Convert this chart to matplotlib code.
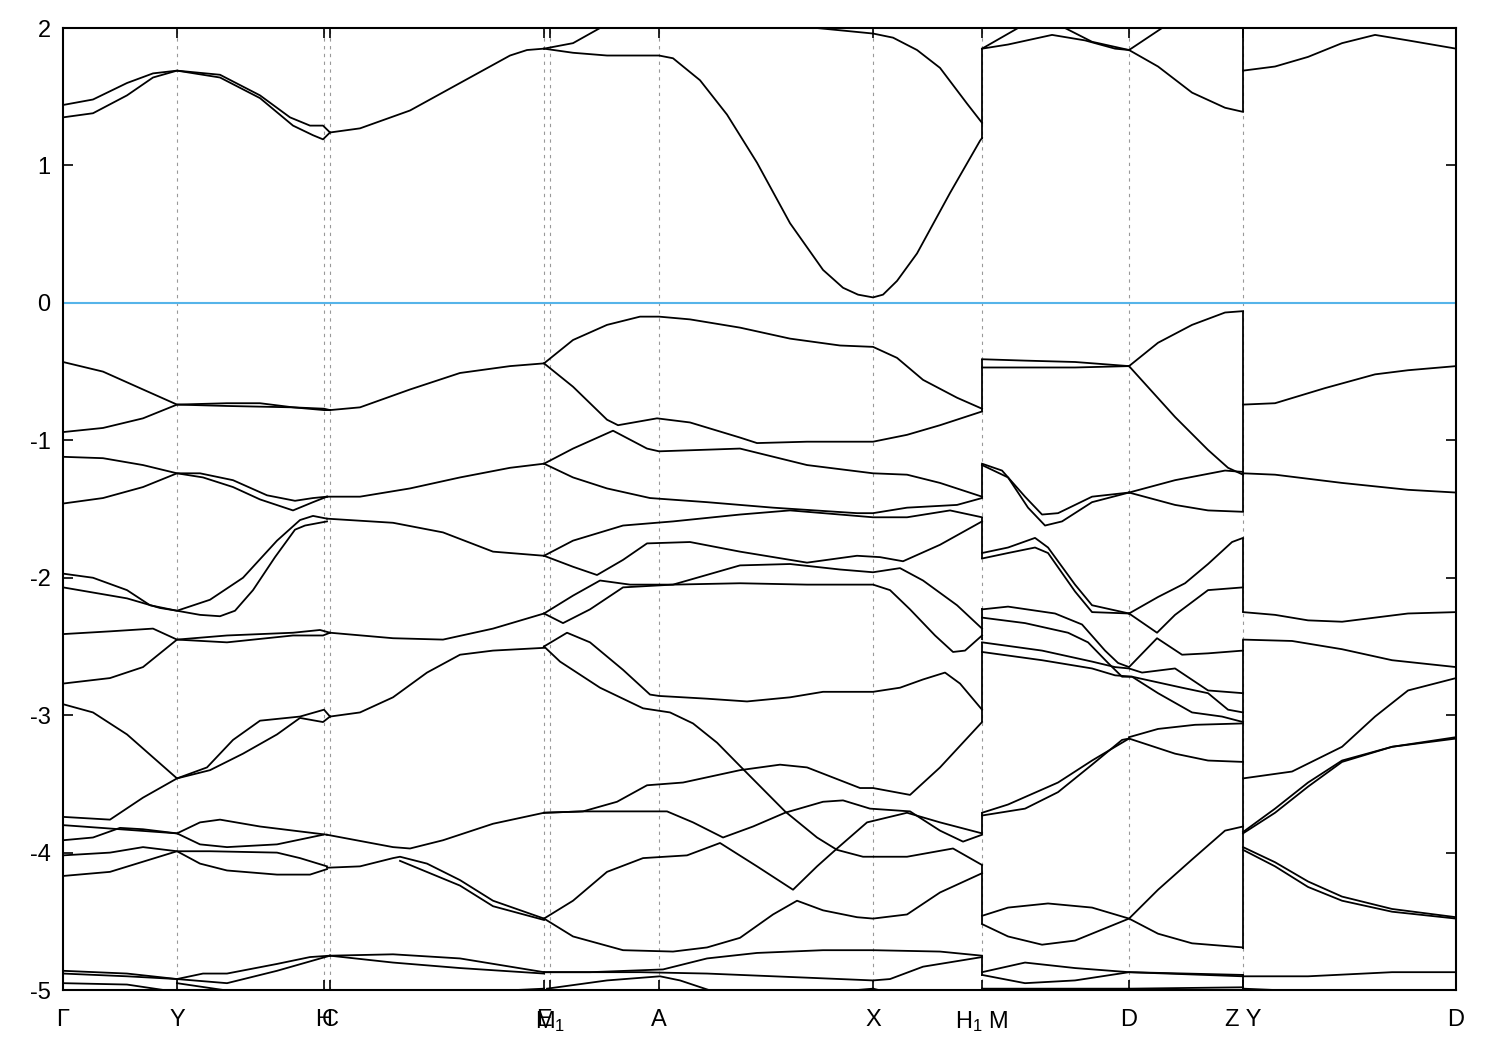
import matplotlib
matplotlib.use("Agg")
import matplotlib.pyplot as plt

plt.rcParams['font.family'] = ['Liberation Sans', 'DejaVu Sans']
plt.rcParams['mathtext.fontset'] = 'custom'
plt.rcParams['mathtext.rm'] = 'Liberation Sans'
plt.rcParams['mathtext.default'] = 'regular'
plt.rcParams['axes.unicode_minus'] = False

# high symmetry points along the k path
kpoint_pos = [0.0, 1.14, 2.61, 2.67, 4.81, 4.87, 5.96, 8.10, 9.19, 10.66, 11.80, 13.93]
kpoint_labels = ["Γ", "Y", "H", "C", "E", "M$_1$", "A", "X", "H$_1$ M", "D", "Z Y", "D"]
k_end = 13.93
e_min, e_max = -5, 2

# conduction bands, (k, E)
cond_bands = [
    [(0, 1.44), (0.30, 1.48), (0.64, 1.60), (0.90, 1.67), (1.14, 1.69), (1.57, 1.66), (1.97, 1.51), (2.27, 1.35), (2.47, 1.29), (2.60, 1.29), (2.67, 1.24)],
    [(0, 1.35), (0.30, 1.38), (0.64, 1.51), (0.90, 1.64), (1.14, 1.69), (1.57, 1.64), (1.97, 1.49), (2.30, 1.29), (2.50, 1.22), (2.60, 1.19), (2.67, 1.24)],
    [(2.67, 1.24), (2.97, 1.27), (3.47, 1.40), (3.97, 1.60), (4.47, 1.80), (4.64, 1.84), (4.81, 1.85)],
    [(4.81, 1.85), (5.10, 1.89), (5.37, 2.00), (5.50, 2.08)],
    [(4.81, 1.85), (5.10, 1.82), (5.44, 1.80), (5.96, 1.80), (6.10, 1.78), (6.37, 1.62), (6.64, 1.37), (6.94, 1.02), (7.27, 0.58), (7.60, 0.24), (7.80, 0.11), (7.95, 0.06), (8.10, 0.04), (8.20, 0.06), (8.34, 0.16), (8.54, 0.36), (8.87, 0.80), (9.17, 1.18), (9.19, 1.20)],
    [(7.54, 2.00), (8.10, 1.96), (8.30, 1.93), (8.54, 1.84), (8.77, 1.71), (9.04, 1.45), (9.19, 1.31)],
    [(9.19, 1.85), (9.55, 2.00)],
    [(9.19, 1.85), (9.45, 1.88), (9.89, 1.95), (10.22, 1.91), (10.52, 1.85), (10.66, 1.84)],
    [(10.02, 2.00), (10.29, 1.90), (10.66, 1.84)],
    [(10.66, 1.84), (10.99, 2.00)],
    [(10.66, 1.84), (10.95, 1.72), (11.29, 1.53), (11.62, 1.42), (11.80, 1.39)],
    [(11.80, 1.69), (12.12, 1.72), (12.45, 1.79), (12.79, 1.89), (13.12, 1.95), (13.45, 1.91), (13.93, 1.85)],
]

# valence bands, Gamma -> Y -> H/C -> E
val_gamma_e = [
    [(0, -0.43), (0.40, -0.50), (0.80, -0.63), (1.14, -0.74), (1.64, -0.73), (1.97, -0.73), (2.30, -0.76), (2.61, -0.78), (2.67, -0.78)],
    [(0, -0.94), (0.40, -0.91), (0.80, -0.84), (1.14, -0.74), (1.64, -0.75), (2.30, -0.76), (2.61, -0.77), (2.67, -0.78)],
    [(2.67, -0.78), (2.97, -0.76), (3.47, -0.63), (3.97, -0.51), (4.47, -0.46), (4.81, -0.44)],
    [(0, -1.12), (0.40, -1.13), (0.80, -1.18), (1.14, -1.24), (1.37, -1.24), (1.70, -1.29), (2.04, -1.40), (2.32, -1.44), (2.50, -1.42), (2.64, -1.41)],
    [(0, -1.46), (0.40, -1.42), (0.80, -1.34), (1.14, -1.24), (1.40, -1.27), (1.70, -1.34), (1.97, -1.43), (2.30, -1.51), (2.50, -1.45), (2.64, -1.41)],
    [(2.64, -1.41), (2.97, -1.41), (3.47, -1.35), (3.97, -1.27), (4.47, -1.20), (4.81, -1.17)],
    [(0, -1.97), (0.30, -2.00), (0.64, -2.09), (0.87, -2.20), (1.14, -2.24), (1.47, -2.16), (1.80, -2.00), (2.14, -1.73), (2.37, -1.58), (2.50, -1.55), (2.64, -1.57)],
    [(0, -2.07), (0.64, -2.15), (0.97, -2.22), (1.14, -2.24), (1.37, -2.27), (1.57, -2.28), (1.72, -2.24), (1.90, -2.09), (2.12, -1.85), (2.32, -1.65), (2.42, -1.62), (2.64, -1.59)],
    [(2.64, -1.57), (3.30, -1.60), (3.80, -1.67), (4.30, -1.81), (4.81, -1.84)],
    [(0, -2.41), (0.47, -2.39), (0.90, -2.37), (1.14, -2.45), (1.64, -2.42), (2.30, -2.40), (2.57, -2.38), (2.67, -2.40)],
    [(0, -2.77), (0.47, -2.73), (0.80, -2.65), (1.14, -2.45), (1.64, -2.47), (2.30, -2.42), (2.60, -2.42), (2.67, -2.40)],
    [(2.67, -2.40), (3.30, -2.44), (3.80, -2.45), (4.30, -2.37), (4.81, -2.26)],
    [(0, -2.92), (0.30, -2.98), (0.64, -3.14), (1.14, -3.46), (1.44, -3.38), (1.70, -3.18), (1.97, -3.04), (2.37, -3.01), (2.61, -2.96), (2.67, -3.01)],
    [(0, -3.74), (0.47, -3.76), (0.80, -3.60), (1.14, -3.46), (1.47, -3.40), (1.80, -3.28), (2.14, -3.14), (2.37, -3.02), (2.60, -3.05), (2.67, -3.01)],
    [(2.67, -3.01), (2.97, -2.98), (3.30, -2.87), (3.64, -2.69), (3.97, -2.56), (4.30, -2.53), (4.81, -2.51)],
    [(0, -3.80), (0.57, -3.83), (1.14, -3.86), (1.37, -3.78), (1.57, -3.76), (1.97, -3.81), (2.64, -3.87)],
    [(0, -3.91), (0.30, -3.89), (0.57, -3.82), (0.80, -3.83), (1.14, -3.86), (1.37, -3.94), (1.64, -3.96), (2.14, -3.94), (2.60, -3.87)],
    [(0, -4.02), (0.47, -4.00), (0.80, -3.96), (1.14, -3.99), (1.47, -3.99), (2.14, -4.00), (2.37, -4.04), (2.64, -4.10)],
    [(0, -4.17), (0.47, -4.14), (1.14, -3.99), (1.37, -4.08), (1.64, -4.13), (2.14, -4.16), (2.47, -4.16), (2.64, -4.12)],
    [(2.64, -3.87), (3.30, -3.96), (3.47, -3.97), (3.80, -3.91), (4.30, -3.79), (4.81, -3.71)],
    [(2.64, -4.11), (2.97, -4.10), (3.30, -4.04), (3.37, -4.03), (3.64, -4.08), (3.97, -4.20), (4.30, -4.35), (4.81, -4.48)],
    [(3.37, -4.06), (3.97, -4.24), (4.30, -4.39), (4.81, -4.49)],
    [(0, -4.86), (0.64, -4.88), (1.14, -4.92), (1.40, -4.88), (1.64, -4.88), (2.14, -4.81), (2.47, -4.76), (2.67, -4.75)],
    [(0, -4.88), (0.64, -4.90), (1.14, -4.92), (1.64, -4.95), (2.14, -4.86), (2.67, -4.75)],
    [(0, -4.95), (0.64, -4.96), (1.10, -5.01)],
    [(1.14, -4.95), (1.70, -5.01)],
    [(2.67, -4.75), (3.30, -4.74), (3.97, -4.77), (4.81, -4.87)],
    [(2.67, -4.75), (3.30, -4.80), (3.97, -4.84), (4.81, -4.88)],
    [(4.24, -5.01), (4.81, -4.99)],
]

# valence bands, M1 -> A -> X -> H1
val_m1_h1 = [
    [(4.81, -0.44), (5.10, -0.27), (5.44, -0.16), (5.77, -0.10), (5.96, -0.10), (6.27, -0.12), (6.77, -0.18), (7.27, -0.26), (7.77, -0.31), (8.10, -0.32), (8.34, -0.40), (8.60, -0.56), (8.94, -0.69), (9.19, -0.77)],
    [(4.81, -0.44), (5.10, -0.61), (5.44, -0.85), (5.55, -0.89), (5.94, -0.84), (6.27, -0.87), (6.77, -0.98), (6.94, -1.02), (7.44, -1.01), (8.10, -1.01), (8.44, -0.96), (8.77, -0.89), (9.19, -0.79)],
    [(4.81, -1.17), (5.10, -1.06), (5.50, -0.93), (5.84, -1.06), (5.96, -1.08), (6.77, -1.06), (7.44, -1.18), (8.10, -1.24), (8.44, -1.25), (8.77, -1.31), (9.19, -1.41)],
    [(4.81, -1.17), (5.10, -1.27), (5.44, -1.35), (5.87, -1.42), (6.44, -1.45), (7.10, -1.49), (7.94, -1.53), (8.10, -1.53), (8.44, -1.49), (8.94, -1.47), (9.19, -1.42)],
    [(4.81, -1.84), (5.10, -1.73), (5.60, -1.62), (6.10, -1.59), (6.77, -1.54), (7.27, -1.51), (7.77, -1.54), (8.10, -1.56), (8.44, -1.56), (8.87, -1.51), (9.19, -1.56)],
    [(4.81, -1.84), (5.10, -1.92), (5.34, -1.98), (5.60, -1.87), (5.84, -1.75), (6.27, -1.74), (6.77, -1.81), (7.44, -1.89), (7.94, -1.84), (8.17, -1.85), (8.40, -1.88), (8.77, -1.76), (9.19, -1.59)],
    [(4.81, -2.26), (5.10, -2.13), (5.37, -2.02), (5.67, -2.05), (6.10, -2.05), (6.77, -2.04), (7.44, -2.05), (8.10, -2.05), (8.27, -2.09), (8.47, -2.23), (8.72, -2.42), (8.90, -2.54), (9.02, -2.53), (9.19, -2.42)],
    [(4.81, -2.26), (5.00, -2.33), (5.27, -2.23), (5.60, -2.07), (6.10, -2.05), (6.77, -1.91), (7.27, -1.90), (7.77, -1.94), (8.10, -1.96), (8.37, -1.93), (8.60, -2.02), (8.94, -2.20), (9.19, -2.37)],
    [(4.81, -2.50), (5.04, -2.40), (5.27, -2.47), (5.60, -2.67), (5.87, -2.85), (5.96, -2.86), (6.44, -2.88), (6.84, -2.90), (7.27, -2.87), (7.60, -2.83), (8.10, -2.83), (8.37, -2.80), (8.60, -2.74), (8.82, -2.69), (8.97, -2.77), (9.19, -2.96)],
    [(4.81, -2.50), (4.97, -2.61), (5.37, -2.80), (5.80, -2.95), (6.07, -2.98), (6.30, -3.06), (6.54, -3.20), (6.77, -3.37), (7.22, -3.70), (7.54, -3.89), (7.74, -3.98), (8.00, -4.03), (8.44, -4.03), (8.90, -3.97), (9.19, -4.09)],
    [(4.81, -3.71), (5.20, -3.70), (5.54, -3.63), (5.84, -3.51), (6.20, -3.49), (6.77, -3.40), (7.17, -3.36), (7.44, -3.38), (7.97, -3.53), (8.10, -3.53), (8.47, -3.58), (8.77, -3.38), (9.19, -3.05)],
    [(4.81, -3.71), (5.20, -3.70), (6.04, -3.70), (6.30, -3.78), (6.60, -3.89), (6.90, -3.81), (7.22, -3.71), (7.60, -3.63), (7.80, -3.62), (8.07, -3.68), (8.47, -3.70), (8.77, -3.84), (9.00, -3.92), (9.19, -3.87)],
    [(4.81, -4.48), (5.10, -4.35), (5.44, -4.14), (5.80, -4.04), (6.24, -4.02), (6.57, -3.93), (6.94, -4.10), (7.30, -4.27), (7.54, -4.10), (7.74, -3.97), (8.04, -3.78), (8.44, -3.71), (8.77, -3.78), (9.19, -3.86)],
    [(4.81, -4.48), (5.10, -4.61), (5.60, -4.71), (6.10, -4.72), (6.44, -4.69), (6.77, -4.62), (7.10, -4.45), (7.34, -4.35), (7.60, -4.42), (7.94, -4.47), (8.10, -4.48), (8.44, -4.45), (8.77, -4.29), (9.19, -4.15)],
    [(4.81, -4.87), (5.27, -4.87), (6.00, -4.85), (6.44, -4.77), (6.94, -4.73), (7.60, -4.71), (8.10, -4.71), (8.77, -4.72), (9.19, -4.75)],
    [(4.81, -4.87), (5.77, -4.87), (6.44, -4.88), (7.44, -4.91), (8.10, -4.93), (8.27, -4.92), (8.60, -4.83), (9.19, -4.76)],
    [(4.84, -4.99), (5.44, -4.93), (5.97, -4.90), (6.17, -4.93), (6.50, -5.01)],
    [(7.77, -5.01), (8.10, -4.99), (8.27, -5.02)],
]

# valence bands, M -> D -> Z
val_m_z = [
    [(9.19, -0.41), (9.62, -0.42), (10.12, -0.43), (10.66, -0.46)],
    [(9.19, -0.47), (9.62, -0.47), (10.12, -0.47), (10.66, -0.46)],
    [(10.66, -0.46), (10.95, -0.29), (11.29, -0.16), (11.62, -0.07), (11.80, -0.06)],
    [(10.66, -0.46), (11.12, -0.83), (11.45, -1.07), (11.65, -1.20), (11.80, -1.25)],
    [(9.19, -1.17), (9.39, -1.22), (9.62, -1.41), (9.79, -1.54), (9.95, -1.53), (10.29, -1.41), (10.66, -1.38)],
    [(9.19, -1.18), (9.45, -1.27), (9.65, -1.49), (9.82, -1.62), (9.99, -1.59), (10.29, -1.45), (10.66, -1.38)],
    [(10.66, -1.38), (11.12, -1.29), (11.62, -1.22), (11.80, -1.23)],
    [(10.66, -1.38), (11.12, -1.47), (11.45, -1.51), (11.80, -1.52)],
    [(9.19, -1.82), (9.45, -1.78), (9.72, -1.71), (9.85, -1.78), (10.12, -2.05), (10.29, -2.20), (10.66, -2.26)],
    [(9.19, -1.86), (9.45, -1.82), (9.72, -1.78), (9.85, -1.82), (10.12, -2.10), (10.29, -2.25), (10.66, -2.26)],
    [(10.66, -2.26), (10.95, -2.14), (11.22, -2.04), (11.45, -1.90), (11.69, -1.74), (11.80, -1.71)],
    [(10.66, -2.26), (10.94, -2.40), (11.12, -2.27), (11.45, -2.09), (11.80, -2.07)],
    [(9.19, -2.23), (9.45, -2.21), (9.92, -2.26), (10.19, -2.34), (10.42, -2.53), (10.55, -2.62), (10.66, -2.65), (10.94, -2.44), (11.19, -2.56), (11.45, -2.55), (11.80, -2.53)],
    [(9.19, -2.29), (9.62, -2.33), (10.05, -2.40), (10.25, -2.47), (10.45, -2.62), (10.59, -2.72), (10.69, -2.72), (10.95, -2.84), (11.29, -2.98), (11.59, -3.01), (11.80, -3.05)],
    [(9.19, -2.47), (9.79, -2.53), (10.29, -2.61), (10.52, -2.65), (10.66, -2.66), (10.79, -2.69), (11.12, -2.66), (11.45, -2.82), (11.80, -2.84)],
    [(9.19, -2.54), (9.79, -2.60), (10.29, -2.66), (10.52, -2.71), (10.69, -2.72), (11.19, -2.80), (11.45, -2.84), (11.65, -2.96), (11.80, -2.98)],
    [(10.66, -3.16), (10.95, -3.10), (11.32, -3.07), (11.80, -3.06)],
    [(9.19, -3.71), (9.45, -3.65), (9.95, -3.49), (10.29, -3.33), (10.66, -3.17)],
    [(9.19, -3.73), (9.62, -3.68), (9.95, -3.56), (10.29, -3.36), (10.59, -3.18), (10.66, -3.17)],
    [(10.66, -3.17), (11.12, -3.28), (11.45, -3.33), (11.80, -3.34)],
    [(9.19, -4.46), (9.45, -4.40), (9.85, -4.37), (10.29, -4.40), (10.66, -4.48), (10.95, -4.27), (11.29, -4.05), (11.62, -3.84), (11.80, -3.81)],
    [(9.19, -4.52), (9.45, -4.61), (9.79, -4.67), (10.12, -4.64), (10.66, -4.48), (10.95, -4.59), (11.29, -4.66), (11.80, -4.69)],
    [(9.19, -4.87), (9.62, -4.80), (10.12, -4.84), (10.66, -4.87), (11.80, -4.89)],
    [(9.19, -4.89), (9.62, -4.95), (10.12, -4.93), (10.66, -4.87), (11.80, -4.90)],
    [(9.19, -4.99), (10.66, -4.99), (11.80, -4.98)],
]

# valence bands, Y -> D
val_y_d = [
    [(11.80, -0.74), (12.12, -0.73), (12.62, -0.62), (13.12, -0.52), (13.45, -0.49), (13.93, -0.46)],
    [(11.80, -1.24), (12.12, -1.25), (12.79, -1.31), (13.45, -1.36), (13.93, -1.38)],
    [(11.80, -2.25), (12.12, -2.27), (12.45, -2.31), (12.79, -2.32), (13.45, -2.26), (13.93, -2.25)],
    [(11.80, -2.45), (12.29, -2.46), (12.79, -2.52), (13.29, -2.60), (13.93, -2.65)],
    [(11.80, -3.46), (12.29, -3.41), (12.79, -3.23), (13.12, -3.01), (13.45, -2.82), (13.93, -2.73)],
    [(11.80, -3.86), (12.12, -3.71), (12.45, -3.52), (12.79, -3.34), (13.29, -3.23), (13.93, -3.17)],
    [(11.80, -3.85), (12.12, -3.68), (12.45, -3.49), (12.79, -3.33), (13.29, -3.23), (13.93, -3.16)],
    [(11.80, -3.98), (12.12, -4.10), (12.45, -4.25), (12.79, -4.35), (13.29, -4.43), (13.93, -4.48)],
    [(11.80, -3.96), (12.12, -4.07), (12.45, -4.21), (12.79, -4.32), (13.29, -4.41), (13.93, -4.47)],
    [(11.80, -4.90), (12.45, -4.90), (13.29, -4.87), (13.93, -4.87)],
    [(11.80, -4.99), (12.45, -5.01)],
]

# energy ranges of the jumps where the path is discontinuous (H1|M and Z|Y)
jumps_h1_m = [(1.19, 1.85), (-0.79, -0.41), (-1.42, -1.17), (-1.86, -1.56), (-2.45, -2.22),
              (-3.05, -2.47), (-3.86, -3.71), (-4.52, -4.09), (-4.90, -4.75)]
jumps_z_y = [(1.39, 2.0), (-1.25, -0.06), (-1.52, -1.23), (-2.25, -1.71), (-4.70, -2.45), (-4.99, -4.89)]

fig = plt.figure(figsize=(15, 10.5), dpi=100)
ax = fig.add_axes([0.042, 0.0571, 0.9287, 0.9162])

# dashed lines at the high symmetry points
for k in kpoint_pos[1:-1]:
    ax.axvline(k, color='#999999', lw=0.8, ls=(0, (3, 4)), zorder=1)

# fermi level
ax.axhline(0, color='#56B4E9', lw=1.5, zorder=2)

for band in cond_bands + val_gamma_e + val_m1_h1 + val_m_z + val_y_d:
    ks = [p[0] for p in band]
    es = [p[1] for p in band]
    ax.plot(ks, es, color='black', lw=1.3, zorder=3)

for lo, hi in jumps_h1_m:
    ax.vlines(kpoint_pos[8], lo, hi, color='black', lw=1.3, zorder=3)
for lo, hi in jumps_z_y:
    ax.vlines(kpoint_pos[10], lo, hi, color='black', lw=1.3, zorder=3)

ax.set_xlim(0, k_end)
ax.set_ylim(e_min, e_max)
ax.set_yticks(range(e_min, e_max + 1))
ax.set_xticks(kpoint_pos)
ax.set_xticklabels(kpoint_labels)
ax.tick_params(direction='in', length=7, width=1.2, top=True, right=True, labelsize=17, pad=14)
ax.tick_params(axis='y', pad=9)
for s in ax.spines.values():
    s.set_linewidth(1.5)

fig.savefig("out.png", dpi=100)
